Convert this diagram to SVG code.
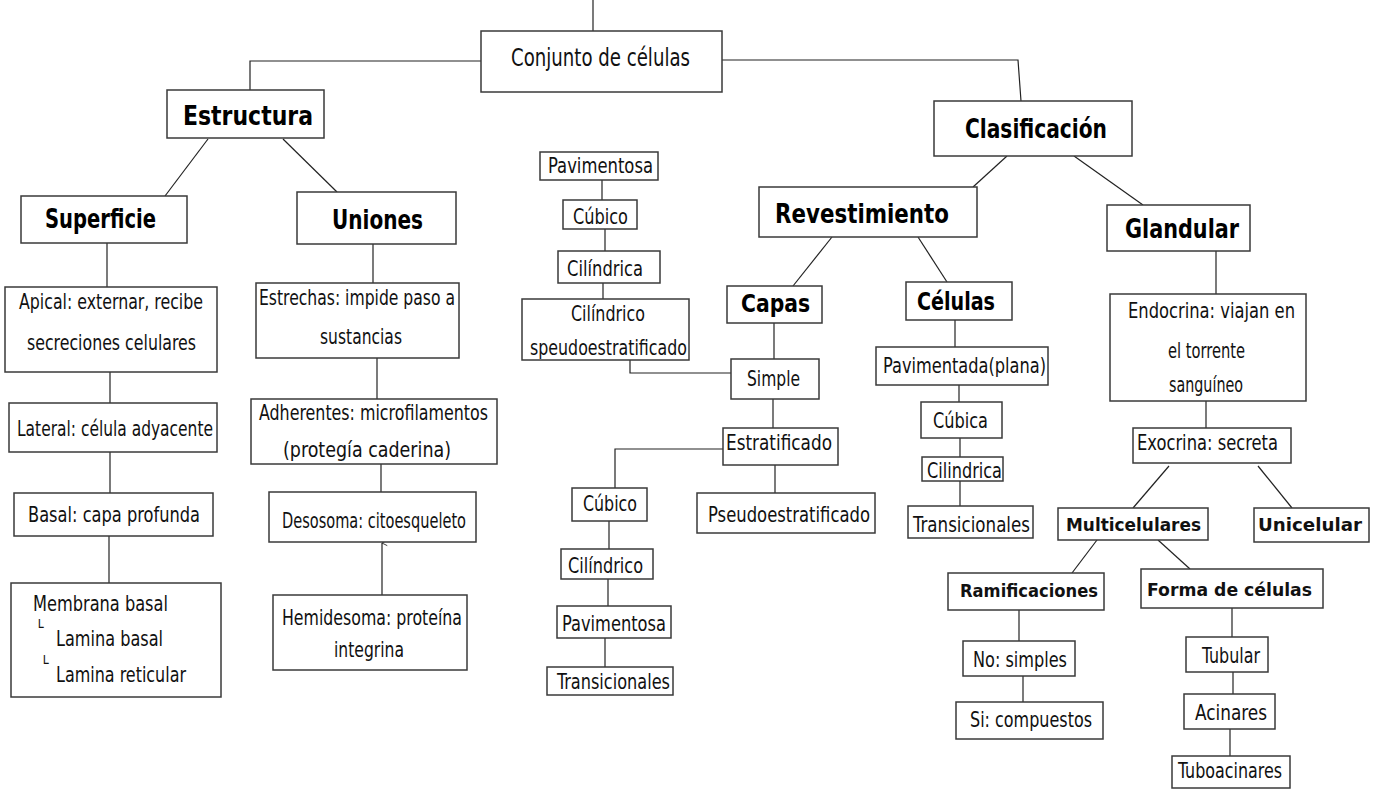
<svg xmlns="http://www.w3.org/2000/svg" width="1376" height="790" viewBox="0 0 1376 790">
<defs>
<style>
.box{fill:#fff;stroke:#3a3a3a;stroke-width:1.5}
.ln{fill:none;stroke:#222;stroke-width:1.2}
.t{font-family:"Liberation Sans Narrow","DejaVu Sans Condensed","Liberation Sans",sans-serif;font-size:21px;fill:#111}
.h{font-family:"DejaVu Sans Condensed","DejaVu Sans",sans-serif;font-weight:bold;font-size:26px;fill:#000}
.g{font-family:"DejaVu Sans","Liberation Sans",sans-serif;font-weight:bold;font-size:18px;fill:#111}
.m{font-family:"DejaVu Sans",sans-serif;font-size:14px;fill:#111}
</style>
<marker id="ah" viewBox="0 0 8 8" refX="4" refY="1" markerWidth="7" markerHeight="7" orient="auto-start-reverse" markerUnits="userSpaceOnUse">
<path d="M1,7 L4,1 L7,7" fill="none" stroke="#222" stroke-width="1"/>
</marker>
</defs>
<rect width="1376" height="790" fill="#fff"/>
<g id="connectors">
<path class="ln" d="M593,0 V31"/>
<path class="ln" d="M481,61 H250 V90"/>
<path class="ln" d="M722,60 H1018 L1021,101"/>
<path class="ln" d="M208,139 L165,196"/>
<path class="ln" d="M283,139 L337,192"/>
<path class="ln" d="M107,243 V287"/>
<path class="ln" d="M373,244 V283"/>
<path class="ln" d="M110,372 V403"/>
<path class="ln" d="M110,452 V493"/>
<path class="ln" d="M109,536 V583"/>
<path class="ln" d="M377,358 V399"/>
<path class="ln" d="M381,464 V492"/>
<path class="ln" d="M382,595 V543" marker-end="url(#ah)"/>
<path class="ln" d="M1007,156 L973,187"/>
<path class="ln" d="M1074,156 L1143,205"/>
<path class="ln" d="M832,237 L793,286"/>
<path class="ln" d="M918,237 L947,282"/>
<path class="ln" d="M1216,251 V294"/>
<path class="ln" d="M602,180 V200"/>
<path class="ln" d="M605,229 V251"/>
<path class="ln" d="M603,283 V299"/>
<path class="ln" d="M630,360 V373 H731"/>
<path class="ln" d="M774,323 V359"/>
<path class="ln" d="M773,399 V428"/>
<path class="ln" d="M723,449 H615 V488"/>
<path class="ln" d="M775,465 V493"/>
<path class="ln" d="M609,521 V549"/>
<path class="ln" d="M608,579 V606"/>
<path class="ln" d="M605,638 V667"/>
<path class="ln" d="M955,320 V347"/>
<path class="ln" d="M959,385 V402"/>
<path class="ln" d="M960,438 V457"/>
<path class="ln" d="M960,481 V506"/>
<path class="ln" d="M1206,401 V428"/>
<path class="ln" d="M1169,466 L1133,508"/>
<path class="ln" d="M1258,466 L1292,508"/>
<path class="ln" d="M1097,540 L1072,573"/>
<path class="ln" d="M1158,540 L1190,569"/>
<path class="ln" d="M1019,610 V641"/>
<path class="ln" d="M1023,676 V702"/>
<path class="ln" d="M1232,608 V637"/>
<path class="ln" d="M1233,672 V694"/>
<path class="ln" d="M1230,729 V756"/>
</g>
<g id="conjunto"><rect class="box" x="481" y="31" width="241" height="61"/><text class="t" style="font-size:24px" x="511" y="66" textLength="179" lengthAdjust="spacingAndGlyphs">Conjunto de células</text></g>
<g id="estructura"><rect class="box" x="167" y="90" width="157" height="48"/><text class="h" x="183" y="125" textLength="130" lengthAdjust="spacingAndGlyphs">Estructura</text></g>
<g id="superficie"><rect class="box" x="21" y="196" width="166" height="47"/><text class="h" x="45" y="228" textLength="111" lengthAdjust="spacingAndGlyphs">Superficie</text></g>
<g id="uniones"><rect class="box" x="297" y="192" width="159" height="52"/><text class="h" x="332" y="229" textLength="91" lengthAdjust="spacingAndGlyphs">Uniones</text></g>
<g id="clasificacion"><rect class="box" x="934" y="101" width="198" height="55"/><text class="h" x="965" y="138" textLength="142" lengthAdjust="spacingAndGlyphs">Clasificación</text></g>
<g id="revestimiento"><rect class="box" x="759" y="187" width="218" height="50"/><text class="h" x="775" y="223" textLength="174" lengthAdjust="spacingAndGlyphs">Revestimiento</text></g>
<g id="glandular"><rect class="box" x="1107" y="205" width="143" height="46"/><text class="h" x="1125" y="238" textLength="114" lengthAdjust="spacingAndGlyphs">Glandular</text></g>
<g id="capas"><rect class="box" x="727" y="286" width="95" height="37"/><text class="h" style="font-size:24px" x="741" y="312" textLength="69" lengthAdjust="spacingAndGlyphs">Capas</text></g>
<g id="celulas"><rect class="box" x="906" y="282" width="106" height="38"/><text class="h" style="font-size:24px" x="917" y="310" textLength="78" lengthAdjust="spacingAndGlyphs">Células</text></g>
<g id="apical"><rect class="box" x="5" y="287" width="212" height="85"/><text class="t" x="19" y="309" textLength="184" lengthAdjust="spacingAndGlyphs">Apical: externar, recibe</text><text class="t" x="27" y="350" textLength="169" lengthAdjust="spacingAndGlyphs">secreciones celulares</text></g>
<g id="lateral"><rect class="box" x="9" y="403" width="208" height="49"/><text class="t" x="17" y="436" textLength="196" lengthAdjust="spacingAndGlyphs">Lateral: célula adyacente</text></g>
<g id="basal"><rect class="box" x="14" y="493" width="199" height="43"/><text class="t" x="28" y="522" textLength="172" lengthAdjust="spacingAndGlyphs">Basal: capa profunda</text></g>
<g id="membrana"><rect class="box" x="11" y="583" width="210" height="114"/><text class="t" x="33" y="611" textLength="135" lengthAdjust="spacingAndGlyphs">Membrana basal</text><text class="m" x="35" y="632">└</text><text class="t" x="56" y="646" textLength="107" lengthAdjust="spacingAndGlyphs">Lamina basal</text><text class="m" x="40" y="668">└</text><text class="t" x="56" y="682" textLength="130" lengthAdjust="spacingAndGlyphs">Lamina reticular</text></g>
<g id="estrechas"><rect class="box" x="256" y="283" width="203" height="75"/><text class="t" x="259" y="305" textLength="196" lengthAdjust="spacingAndGlyphs">Estrechas: impide paso a</text><text class="t" x="320" y="344" textLength="82" lengthAdjust="spacingAndGlyphs">sustancias</text></g>
<g id="adherentes"><rect class="box" x="251" y="399" width="246" height="65"/><text class="t" x="259" y="420" textLength="229" lengthAdjust="spacingAndGlyphs">Adherentes: microfilamentos</text><text class="t" x="283" y="457" textLength="168" lengthAdjust="spacingAndGlyphs">(protegía caderina)</text></g>
<g id="desosoma"><rect class="box" x="269" y="492" width="207" height="50"/><text class="t" x="282" y="528" textLength="184" lengthAdjust="spacingAndGlyphs">Desosoma: citoesqueleto</text></g>
<g id="hemidesoma"><rect class="box" x="273" y="595" width="194" height="75"/><text class="t" x="282" y="625" textLength="180" lengthAdjust="spacingAndGlyphs">Hemidesoma: proteína</text><text class="t" x="334" y="657" textLength="70" lengthAdjust="spacingAndGlyphs">integrina</text></g>
<g id="pavimentosa1"><rect class="box" x="540" y="152" width="118" height="28"/><text class="t" x="548" y="173" textLength="105" lengthAdjust="spacingAndGlyphs">Pavimentosa</text></g>
<g id="cubico1"><rect class="box" x="563" y="200" width="74" height="29"/><text class="t" x="573" y="224" textLength="55" lengthAdjust="spacingAndGlyphs">Cúbico</text></g>
<g id="cilindrica1"><rect class="box" x="558" y="251" width="102" height="32"/><text class="t" x="567" y="276" textLength="76" lengthAdjust="spacingAndGlyphs">Cilíndrica</text></g>
<g id="cilindrico-pseudo"><rect class="box" x="522" y="299" width="167" height="61"/><text class="t" x="571" y="321" textLength="74" lengthAdjust="spacingAndGlyphs">Cilíndrico</text><text class="t" x="530" y="355" textLength="157" lengthAdjust="spacingAndGlyphs">speudoestratificado</text></g>
<g id="simple"><rect class="box" x="731" y="359" width="88" height="40"/><text class="t" x="747" y="386" textLength="53" lengthAdjust="spacingAndGlyphs">Simple</text></g>
<g id="estratificado"><rect class="box" x="723" y="428" width="115" height="37"/><text class="t" x="726" y="450" textLength="106" lengthAdjust="spacingAndGlyphs">Estratificado</text></g>
<g id="cubico2"><rect class="box" x="572" y="488" width="75" height="33"/><text class="t" x="583" y="511" textLength="54" lengthAdjust="spacingAndGlyphs">Cúbico</text></g>
<g id="pseudoestratificado"><rect class="box" x="697" y="493" width="178" height="40"/><text class="t" x="708" y="522" textLength="162" lengthAdjust="spacingAndGlyphs">Pseudoestratificado</text></g>
<g id="cilindrico2"><rect class="box" x="561" y="549" width="92" height="30"/><text class="t" x="568" y="573" textLength="75" lengthAdjust="spacingAndGlyphs">Cilíndrico</text></g>
<g id="pavimentosa2"><rect class="box" x="557" y="606" width="114" height="32"/><text class="t" x="562" y="631" textLength="104" lengthAdjust="spacingAndGlyphs">Pavimentosa</text></g>
<g id="transicionales1"><rect class="box" x="547" y="667" width="126" height="28"/><text class="t" x="557" y="689" textLength="113" lengthAdjust="spacingAndGlyphs">Transicionales</text></g>
<g id="pavimentada"><rect class="box" x="876" y="347" width="172" height="38"/><text class="t" x="883" y="373" textLength="163" lengthAdjust="spacingAndGlyphs">Pavimentada(plana)</text></g>
<g id="cubica"><rect class="box" x="921" y="402" width="81" height="36"/><text class="t" x="933" y="428" textLength="55" lengthAdjust="spacingAndGlyphs">Cúbica</text></g>
<g id="cilindrica2"><rect class="box" x="922" y="457" width="81" height="24"/><text class="t" x="927" y="478" textLength="75" lengthAdjust="spacingAndGlyphs">Cilindrica</text></g>
<g id="transicionales2"><rect class="box" x="908" y="506" width="125" height="32"/><text class="t" x="913" y="532" textLength="117" lengthAdjust="spacingAndGlyphs">Transicionales</text></g>
<g id="endocrina"><rect class="box" x="1110" y="294" width="196" height="107"/><text class="t" x="1128" y="318" textLength="167" lengthAdjust="spacingAndGlyphs">Endocrina: viajan en</text><text class="t" x="1168" y="358" textLength="77" lengthAdjust="spacingAndGlyphs">el torrente</text><text class="t" x="1169" y="392" textLength="74" lengthAdjust="spacingAndGlyphs">sanguíneo</text></g>
<g id="exocrina"><rect class="box" x="1133" y="428" width="158" height="35"/><text class="t" x="1137" y="450" textLength="141" lengthAdjust="spacingAndGlyphs">Exocrina: secreta</text></g>
<g id="multicelulares"><rect class="box" x="1058" y="508" width="150" height="32"/><text class="g" x="1066" y="531" textLength="135" lengthAdjust="spacingAndGlyphs">Multicelulares</text></g>
<g id="unicelular"><rect class="box" x="1254" y="508" width="115" height="34"/><text class="g" x="1258" y="531" textLength="104" lengthAdjust="spacingAndGlyphs">Unicelular</text></g>
<g id="ramificaciones"><rect class="box" x="948" y="573" width="156" height="37"/><text class="g" x="960" y="597" textLength="138" lengthAdjust="spacingAndGlyphs">Ramificaciones</text></g>
<g id="forma"><rect class="box" x="1141" y="569" width="182" height="39"/><text class="g" x="1147" y="596" textLength="165" lengthAdjust="spacingAndGlyphs">Forma de células</text></g>
<g id="nosimples"><rect class="box" x="963" y="641" width="112" height="35"/><text class="t" x="973" y="667" textLength="94" lengthAdjust="spacingAndGlyphs">No: simples</text></g>
<g id="sicompuestos"><rect class="box" x="956" y="702" width="147" height="37"/><text class="t" x="970" y="727" textLength="122" lengthAdjust="spacingAndGlyphs">Si: compuestos</text></g>
<g id="tubular"><rect class="box" x="1186" y="637" width="82" height="35"/><text class="t" x="1202" y="663" textLength="58" lengthAdjust="spacingAndGlyphs">Tubular</text></g>
<g id="acinares"><rect class="box" x="1184" y="694" width="91" height="35"/><text class="t" x="1195" y="720" textLength="72" lengthAdjust="spacingAndGlyphs">Acinares</text></g>
<g id="tuboacinares"><rect class="box" x="1172" y="756" width="118" height="32"/><text class="t" x="1178" y="778" textLength="104" lengthAdjust="spacingAndGlyphs">Tuboacinares</text></g>
</svg>
